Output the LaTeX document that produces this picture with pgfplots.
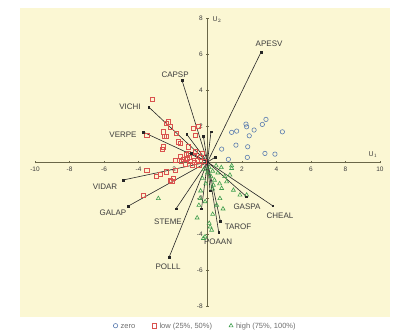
\documentclass[border=0pt]{standalone}
\usepackage{pgfplots}
\pgfplotsset{compat=1.18}
\usepackage{fontspec}
\setmainfont{Liberation Sans}
\definecolor{bgy}{HTML}{FBF7D3}
\definecolor{axc}{HTML}{6A6748}
\definecolor{cblue}{HTML}{5B7DB0}
\definecolor{cred}{HTML}{D9534F}
\definecolor{cgreen}{HTML}{3F9E4D}
\definecolor{txt}{HTML}{3C3C3C}
\newcommand{\lgf}{\fontsize{7.5}{8}\selectfont}
\tikzset{lab/.style={font=\fontsize{8}{9}\selectfont, text=txt, inner sep=0.5pt}}
\pgfplotsset{vec/.style={black!85, line width=0.6pt, mark=square*, mark size=0.9pt, mark indices={2}, forget plot}}
\begin{document}
\begin{tikzpicture}
\useasboundingbox (0,0) rectangle (393pt,333pt);
\begin{axis}[at={(20pt,16pt)}, anchor=south west, scale only axis,
  width=370pt, height=309pt,
  xmin=-10.87, xmax=10.58, ymin=-8.61, ymax=8.56,
  axis lines=middle, axis line style={draw=none},
  axis background/.style={fill=bgy},
  xtick={-10,-8,-6,-4,-2,2,4,6,8,10},
  ytick={-8,-6,-4,-2,2,4,6,8},
  tick style={axc, line width=0.5pt}, major tick length=2.5pt,
  ticklabel style={font=\fontsize{6.5}{7}\selectfont, text=txt},
  /pgf/number format/assume math mode=true,
  clip=false,
  legend columns=3,
  legend style={at={(0.5,-0.002)}, anchor=north, draw=none, fill=none,
    font=\lgf, text=txt!75,
    nodes={text height=1.5ex, text depth=0.35ex, inner sep=1pt},
    /tikz/every odd column/.append style={column sep=2pt},
    /tikz/every even column/.append style={column sep=16pt}},
]
\draw[axc, line width=0.7pt] (axis cs:-10,0) -- (axis cs:10,0);
\draw[axc, line width=0.7pt] (axis cs:0,-8) -- (axis cs:0,8);

% zero (blue circles)
\addplot[only marks, mark=o, mark size=2.2pt, cblue, line width=0.6pt] coordinates {
(1.40,1.65) (1.69,1.72) (2.23,2.11) (2.27,1.96) (2.42,1.46) (2.70,1.78)
(3.18,2.09) (3.39,2.37) (4.34,1.68) (0.82,0.72) (1.65,0.94) (2.33,0.85)
(3.33,0.48) (3.91,0.44) (2.31,0.26) (1.21,0.15)
};
\addlegendentry{\lgf zero}
% low (red squares)
\addplot[only marks, mark=square, mark size=2.1pt, cred, line width=0.6pt] coordinates {
(-3.18,3.48) (-2.27,2.24) (-2.37,2.15) (-2.17,1.96) (-2.56,1.68) (-1.79,1.59)
(-2.37,1.41) (-2.52,1.41) (-2.56,0.85) (-1.59,1.04) (-1.69,1.13) (-0.82,1.87)
(-0.53,2.0) (-0.72,1.5) (-1.11,0.85) (-2.6,0.7) (-3.52,1.5) (-1.88,0.11)
(-1.5,0.02) (-1.2,0.2) (-1.0,0.05) (-0.8,0.3) (-0.6,0.1) (-1.3,-0.1)
(-0.4,0.25) (-0.3,0.5) (-0.2,0.05) (-1.6,0.3) (-0.9,-0.15) (-0.5,-0.2)
(-0.7,0.6) (-1.1,0.5) (-3.52,-0.48) (-2.75,-0.67) (-2.37,-0.54) (-1.98,-0.91)
(-2.07,-1.09) (-3.72,-1.83) (-2.95,-0.81) (-1.88,-0.44) (-2.17,-1.0)
(-1.4,0.15) (-1.05,0.25) (-0.75,0.0) (-1.25,0.4)
};
\addlegendentry{\lgf low (25\%, 50\%)}
% high (green triangles)
\addplot[only marks, mark=triangle, mark size=2.3pt, cgreen, line width=0.6pt] coordinates {
(-2.85,-2.02) (-0.43,-2.02) (0.34,-1.28) (1.40,-0.35) (1.30,-0.72) (1.11,-1.09)
(0.82,-1.46) (1.5,-1.56) (1.88,-1.83) (2.27,-1.83) (0.72,-2.02) (-0.14,-2.2)
(0.53,-2.39) (0.24,-3.78) (-0.24,-4.24) (0.15,-3.6) (1.4,-0.2)
(0.1,-0.3) (0.3,-0.5) (0.5,-0.2) (0.2,-0.8) (0.6,-0.6) (0.4,-1.0) (0.0,-0.6)
(-0.2,-0.4) (0.8,-0.3) (-0.1,-1.2) (0.7,-1.2) (0.3,-1.5) (-0.4,-1.6)
(-0.3,-0.9) (1.0,-0.8) (-0.5,-2.4) (0.9,-2.6) (0.3,-2.9) (-0.6,-3.1)
(0.1,-3.4) (-0.14,-4.15)
};
\addlegendentry{\lgf high (75\%, 100\%)}

% vectors
\addplot[vec] coordinates {(0,0) (3.1,6.1)};
\addplot[vec] coordinates {(0,0) (-1.48,4.55)};
\addplot[vec] coordinates {(0,0) (-3.4,3.05)};
\addplot[vec] coordinates {(0,0) (-3.74,1.67)};
\addplot[vec] coordinates {(0,0) (-4.9,-1.0)};
\addplot[vec] coordinates {(0,0) (-4.6,-2.45)};
\addplot[vec] coordinates {(0,0) (-1.83,-2.6)};
\addplot[vec] coordinates {(0,0) (-2.23,-5.3)};
\addplot[vec] coordinates {(0,0) (0.65,-3.9)};
\addplot[vec] coordinates {(0,0) (0.75,-3.3)};
\addplot[vec] coordinates {(0,0) (2.27,-1.93)};
\addplot[vec] coordinates {(0,0) (3.78,-2.43)};
\addplot[vec] coordinates {(0,0) (-1.2,1.54)};
\addplot[vec] coordinates {(0,0) (-0.24,1.44)};
\addplot[vec] coordinates {(0,0) (0.2,1.68)};
\addplot[vec] coordinates {(0,0) (-0.92,0.48)};
\addplot[vec] coordinates {(0,0) (0.43,0.26)};
\addplot[vec] coordinates {(0,0) (0.15,-1.6)};
\addplot[vec] coordinates {(0,0) (-0.35,-2.6)};

\node[lab] at (axis cs:3.57,6.6) {APESV};
\node[lab] at (axis cs:-1.88,4.83) {CAPSP};
\node[lab] at (axis cs:-4.49,3.06) {VICHI};
\node[lab] at (axis cs:-4.9,1.5) {VERPE};
\node[lab] at (axis cs:-5.94,-1.39) {VIDAR};
\node[lab] at (axis cs:-5.48,-2.83) {GALAP};
\node[lab] at (axis cs:-2.29,-3.33) {STEME};
\node[lab] at (axis cs:-2.29,-5.83) {POLLL};
\node[lab] at (axis cs:1.77,-3.61) {TAROF};
\node[lab] at (axis cs:0.61,-4.44) {POAAN};
\node[lab] at (axis cs:2.29,-2.5) {GASPA};
\node[lab] at (axis cs:4.2,-3.0) {CHEAL};
\node[font=\fontsize{7}{8}\selectfont, text=txt] at (axis cs:0.55,7.9) {U$_2$};
\node[font=\fontsize{7}{8}\selectfont, text=txt] at (axis cs:9.6,0.4) {U$_1$};
\end{axis}
\end{tikzpicture}
\end{document}
